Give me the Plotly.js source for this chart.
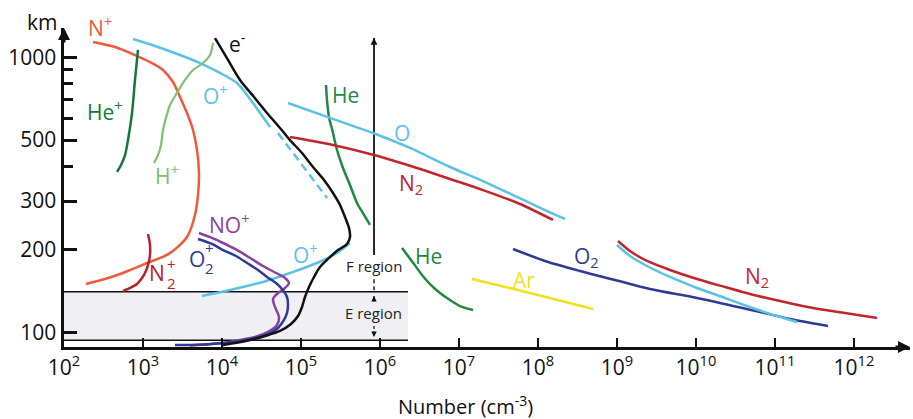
<!DOCTYPE html>
<html><head><meta charset="utf-8">
<script src="https://cdn.plot.ly/plotly-3.0.1.min.js"></script>
<style>body{margin:0;background:#fff}#chart{width:913px;height:419px}</style>
</head><body><div id="chart"></div>
<script>
// ---- data (number density in cm^-3, altitude in km) ----
const nPlusDensity = [233, 442, 792, 1226, 1791, 2398, 2940, 3606, 4296, 4827, 5116, 4969, 4551, 3606, 2197, 1124, 558, 330, 190];
const nPlusAlt     = [1137, 1090, 1019, 961, 899, 813, 717, 627, 544, 460, 380, 316, 267, 222, 194, 178.6, 164.3, 156.2, 149.8];

const hePlusDensity = [864, 792, 726, 646, 592, 527, 469];
const hePlusAlt     = [1063, 827, 627, 500, 441, 406, 383];

const hPlusDensity = [7690, 7050, 5748, 4296, 3401, 2694, 2197, 1955, 1791, 1690, 1548, 1378];
const hPlusAlt     = [1127, 1019, 953, 899, 827, 742, 671, 602, 544, 480, 441, 413];

const oPlusUpperDensity = [747, 1419, 2940, 5266, 9434, 15480, 20730, 28560, 40530];
const oPlusUpperAlt     = [1165, 1099, 1019, 953, 877, 806, 729, 643, 558];
const oPlusDashDensity  = [51160, 213400];
const oPlusDashAlt      = [530, 308];
const oPlusLowerDensity = [5583, 12630, 33040, 72590, 159400, 285600, 417300];
const oPlusLowerAlt     = [135.5, 142.5, 152.4, 164.3, 178.6, 194.3, 211];

const electronDensity = [8154, 11910, 16900, 25420, 37120, 54240, 72590, 102960, 141900, 195500, 254200, 311700, 360600, 405200, 417300, 382300, 294000, 219700, 173990, 146100, 126300, 112400, 102960, 91630, 74710, 54240, 35030, 22620, 14600, 10300];
const electronAlt     = [1175, 977.7, 827, 717.2, 627.3, 553.4, 500, 448.7, 399.1, 358, 321, 290.4, 262.6, 239.5, 222.1, 209.5, 199, 184.8, 172.8, 158.9, 146.1, 134.4, 123.6, 114.6, 107.2, 101.1, 96.95, 93.75, 91.4, 89.9];

const o2PlusDensity = [4969, 7471, 10300, 15040, 20730, 28560, 37120, 48260, 57470, 66500, 68450, 66500, 60930, 51170, 38220, 26170, 16900, 10300, 6093, 3935, 2542];
const o2PlusAlt     = [218.5, 209.5, 199, 189.4, 178.6, 168.5, 158.9, 151.1, 143.7, 134.4, 125.7, 117.5, 110.9, 103.7, 98.6, 95.3, 93.0, 91.4, 90.3, 89.9, 89.9];

const noPlusDensity = [5116, 7471, 10300, 14600, 20730, 33040, 48260, 62720, 70490, 62720, 51170, 44220, 46860, 52670, 49690, 38220, 26170, 16900, 10300, 6093, 3935];
const noPlusAlt     = [229.6, 220.3, 211.2, 200.9, 189.4, 174.2, 164.3, 157.6, 151.1, 144.9, 139.0, 132.2, 123.6, 113.7, 106.3, 100.3, 96.1, 93.75, 91.4, 90.3, 89.5];

const n2PlusDensity = [1157, 1226, 1226, 1157, 1030, 839.6, 645.9, 558.3];
const n2PlusAlt     = [227.8, 207.7, 191, 175.6, 161.6, 149.8, 143.7, 141.3];

const heUpperDensity = [207300, 213400, 226200, 254200, 285600, 340100, 417300, 511600, 627300, 747100];
const heUpperAlt     = [793, 699, 606.6, 530.4, 460, 395.7, 343.3, 295.3, 267.3, 245.6];
const heLowerDensity = [1.899e6, 2.262e6, 2.694e6, 3.401e6, 4.295e6, 5.747e6, 7.692e6, 1.03e7, 1.504e7];
const heLowerAlt     = [202.6, 189.4, 177.1, 161.6, 149.8, 139.0, 131, 124.6, 120.5];

const oUpperDensity = [68450, 232900, 815400, 2.396e6, 7.692e6, 2.134e7, 5.424e7, 1.226e8, 2.197e8];
const oUpperAlt     = [682.2, 602, 530.4, 468, 399.1, 351.9, 310.5, 278, 258.2];
const oLowerDensity = [1.0e9, 1.461e9, 2.396e9, 4.687e9, 1.03e10, 2.329e10, 4.422e10, 8.645e10, 1.899e11];
const oLowerAlt     = [207.7, 189.4, 174.2, 158.9, 144.9, 133.3, 124.6, 116.6, 109];

const n2UpperDensity = [72590, 254200, 839600, 2.94e6, 7.692e6, 2.013e7, 5.918e7, 1.548e8];
const n2UpperAlt     = [513.2, 480, 441.3, 395.7, 360.9, 329, 292.8, 256.1];
const n2LowerDensity = [1.03e9, 1.461e9, 2.396e9, 4.687e9, 1.03e10, 2.329e10, 4.826e10, 1.157e11, 3.027e11, 7.692e11, 1.955e12];
const n2LowerAlt     = [214.8, 197.5, 181.7, 168.5, 156.3, 146.1, 137.8, 130, 122.6, 117.5, 112.7];

const arDensity = [1.461e7, 7.92e7, 4.969e8];
const arAlt     = [156.3, 139.0, 121.5];

const o2Density = [4.826e7, 1.226e8, 3.401e8, 9.434e8, 2.616e9, 1.03e10, 4.422e10, 1.548e11, 4.687e11];
const o2Alt     = [200.9, 181.7, 167.1, 155, 143.7, 133.3, 121.5, 111.8, 105.4];

// E / F region markers
const eRegionAlt = [93.5, 140.5];          // bottom, top of E region
const eRegionDensityRange = [1e2, 2.26e6];
const dividerDensity = 8.4e5;
const fLineSolidAlt = [1175, 191];
const fLineDashAlt = [156, 141];
const eLineDashAlt = [135.5, 96.2];

const xTickVals = [1e2,1e3,1e4,1e5,1e6,1e7,1e8,1e9,1e10,1e11,1e12];
const xTickText = ['10<sup>2</sup>','10<sup>3</sup>','10<sup>4</sup>','10<sup>5</sup>','10<sup>6</sup>','10<sup>7</sup>','10<sup>8</sup>','10<sup>9</sup>','10<sup>10</sup>','10<sup>11</sup>','10<sup>12</sup>'];
const yTickVals = [100, 200, 300, 500, 1000];
const yTickText = ['100', '200', '300', '500', '1000'];
const yMinorVals = [400, 600, 700, 800, 900];

// ---- styles ----
const C = {
  nPlus: '#ef5a3c', n2Plus: '#b8202c', n2: '#c0262d', hePlus: '#107a3a', he: '#1d8a3e',
  hPlus: '#7cc36a', o: '#5bc2e6', e: '#111111', noPlus: '#8a42a0', o2Plus: '#2e3a94',
  o2: '#2e3a94', ar: '#efe21f'
};
const FONT = '"Open Sans", "Noto Sans", sans-serif';
const LS = 21;   // label font size

function L(x, y, color, opts) {
  opts = opts || {};
  return {x: x, y: y, type: 'scatter', mode: 'lines', hoverinfo: 'skip', cliponaxis: false,
    line: {color: color, width: opts.width || 2.5, shape: opts.shape || 'spline', smoothing: 0.8, dash: opts.dash || 'solid'}};
}

const traces = [
  // E region band
  {x: [eRegionDensityRange[0], eRegionDensityRange[1], eRegionDensityRange[1], eRegionDensityRange[0]],
   y: [eRegionAlt[0], eRegionAlt[0], eRegionAlt[1], eRegionAlt[1]],
   type: 'scatter', mode: 'lines', fill: 'toself', fillcolor: '#efeff4', line: {width: 0}, hoverinfo: 'skip'},
  L(eRegionDensityRange, [eRegionAlt[1], eRegionAlt[1]], '#111', {width: 1.6, shape: 'linear'}),
  L(eRegionDensityRange, [eRegionAlt[0], eRegionAlt[0]], '#111', {width: 1.6, shape: 'linear'}),
  L([dividerDensity, dividerDensity], fLineSolidAlt, '#111', {width: 1.8, shape: 'linear'}),
  L([dividerDensity, dividerDensity], fLineDashAlt, '#111', {width: 1.4, shape: 'linear', dash: '4px,3px'}),
  L([dividerDensity, dividerDensity], eLineDashAlt, '#111', {width: 1.2, shape: 'linear', dash: '3px,3px'}),
  // ions
  L(nPlusDensity, nPlusAlt, C.nPlus),
  L(hePlusDensity, hePlusAlt, C.hePlus),
  L(hPlusDensity, hPlusAlt, C.hPlus, {width: 2.2}),
  L(oPlusUpperDensity, oPlusUpperAlt, C.o),
  L(oPlusDashDensity, oPlusDashAlt, C.o, {dash: '8px,5px', shape: 'linear'}),
  L(oPlusLowerDensity, oPlusLowerAlt, C.o),
  L(n2PlusDensity, n2PlusAlt, C.n2Plus),
  L(noPlusDensity, noPlusAlt, C.noPlus),
  L(o2PlusDensity, o2PlusAlt, C.o2Plus),
  L(electronDensity, electronAlt, C.e),
  // neutrals
  L(heUpperDensity, heUpperAlt, C.he),
  L(heLowerDensity, heLowerAlt, C.he),
  L(oUpperDensity, oUpperAlt, C.o),
  L(n2UpperDensity, n2UpperAlt, C.n2),
  L(arDensity, arAlt, C.ar),
  L(o2Density, o2Alt, C.o2),
  L(oLowerDensity, oLowerAlt, C.o),
  L(n2LowerDensity, n2LowerAlt, C.n2)
];

// label positions (log10 density, log10 km)
const labels = [
  ['He<sup>+</sup>', 2.519, 2.805, C.hePlus, LS],
  ['H<sup>+</sup>', 3.304, 2.572, C.hPlus, LS],
  ['e<sup>-</sup>', 4.190, 3.052, C.e, LS],
  ['O<sup>+</sup>', 3.924, 2.863, C.o, LS],
  ['He', 5.557, 2.863, C.he, LS],
  ['O', 6.278, 2.725, C.o, LS],
  ['N<sub>2</sub>', 6.392, 2.539, C.n2, LS],
  ['NO<sup>+</sup>', 4.089, 2.394, C.noPlus, LS],
  ['O', 3.684, 2.2665, C.o2Plus, LS],
  ['+', 3.845, 2.305, C.o2Plus, 15],
  ['2', 3.845, 2.232, C.o2Plus, 15],
  ['O<sup>+</sup>', 5.051, 2.285, C.o, LS],
  ['N', 3.177, 2.216, C.n2Plus, LS],
  ['+', 3.364, 2.250, C.n2Plus, 15],
  ['2', 3.364, 2.178, C.n2Plus, 15],
  ['He', 6.608, 2.278, C.he, LS],
  ['Ar', 7.823, 2.190, C.ar, LS],
  ['O<sub>2</sub>', 8.620, 2.274, C.o2, LS],
  ['N<sub>2</sub>', 10.772, 2.201, C.n2, LS],
  ['F region', 5.924, 2.241, '#222', 15],
  ['E region', 5.924, 2.070, '#222', 15]
];

const annotations = labels.map(l => ({text: l[0], x: l[1], y: l[2], xref: 'x', yref: 'y',
  showarrow: false, xanchor: 'center', yanchor: 'middle',
  font: {family: FONT, size: l[4], color: l[3]},
  bgcolor: l[0] === 'E region' ? '#efeff4' : 'rgba(0,0,0,0)'}));

// labels outside the plotting area (paper coordinates)
annotations.push({text: 'N<sup>+</sup>', xref: 'paper', yref: 'paper', x: 0.0426, y: 1.006, showarrow: false,
  xanchor: 'center', yanchor: 'middle', font: {family: FONT, size: LS, color: C.nPlus}});
annotations.push({text: 'km', xref: 'paper', yref: 'paper', x: -0.026, y: 1.019, showarrow: false,
  xanchor: 'center', yanchor: 'middle', font: {family: FONT, size: 21, color: '#111'}});
annotations.push({text: 'Number (cm<sup>-3</sup>)', xref: 'paper', yref: 'paper', x: 0.474, y: -0.182, showarrow: false,
  xanchor: 'center', yanchor: 'middle', font: {family: FONT, size: 20, color: '#111'}});

// arrowheads: axes and region divider
annotations.push({xref: 'paper', yref: 'paper', x: 0, y: 1, ax: 0, ay: 16, showarrow: true,
  arrowhead: 2, arrowsize: 0.8, arrowwidth: 3, arrowcolor: '#111', text: ''});
annotations.push({xref: 'paper', yref: 'paper', x: 1, y: 0, ax: -16, ay: 0, showarrow: true,
  arrowhead: 2, arrowsize: 0.8, arrowwidth: 3, arrowcolor: '#111', text: ''});
annotations.push({x: Math.log10(dividerDensity), y: Math.log10(fLineSolidAlt[0]), ax: 0, ay: 8, showarrow: true,
  arrowhead: 2, arrowsize: 0.9, arrowwidth: 1.5, arrowcolor: '#111', text: ''});
annotations.push({x: Math.log10(dividerDensity), y: Math.log10(eLineDashAlt[0]), ax: 0, ay: 7, showarrow: true,
  arrowhead: 2, arrowsize: 0.9, arrowwidth: 1.2, arrowcolor: '#111', text: ''});
annotations.push({x: Math.log10(dividerDensity), y: Math.log10(eLineDashAlt[1]), ax: 0, ay: -7, showarrow: true,
  arrowhead: 2, arrowsize: 0.9, arrowwidth: 1.2, arrowcolor: '#111', text: ''});

const layout = {
  width: 913, height: 419,
  margin: {l: 64, r: 3, t: 28, b: 72, pad: 0},
  paper_bgcolor: '#fff', plot_bgcolor: '#fff',
  showlegend: false,
  font: {family: FONT, size: 21, color: '#111'},
  xaxis: {type: 'log', range: [2, 12.709], showgrid: false, zeroline: false,
    showline: true, linewidth: 3, linecolor: '#111', mirror: false,
    ticks: 'inside', ticklen: 9, tickwidth: 2.5, tickcolor: '#111',
    tickmode: 'array', tickvals: xTickVals, ticktext: xTickText,
    tickfont: {family: FONT, size: 21, color: '#111'}},
  yaxis: {type: 'log', range: [1.9465, 3.1065], showgrid: false, zeroline: false,
    showline: true, linewidth: 3.5, linecolor: '#111',
    ticks: 'inside', ticklen: 13, tickwidth: 3, tickcolor: '#111',
    tickmode: 'array', tickvals: yTickVals, ticktext: yTickText,
    minor: {tickmode: 'array', tickvals: yMinorVals, ticks: 'inside', ticklen: 9, tickwidth: 3, tickcolor: '#111', showgrid: false},
    tickfont: {family: FONT, size: 21, color: '#111'}},
  annotations: annotations
};

Plotly.newPlot('chart', traces, layout, {staticPlot: true, displayModeBar: false});
</script></body></html>
